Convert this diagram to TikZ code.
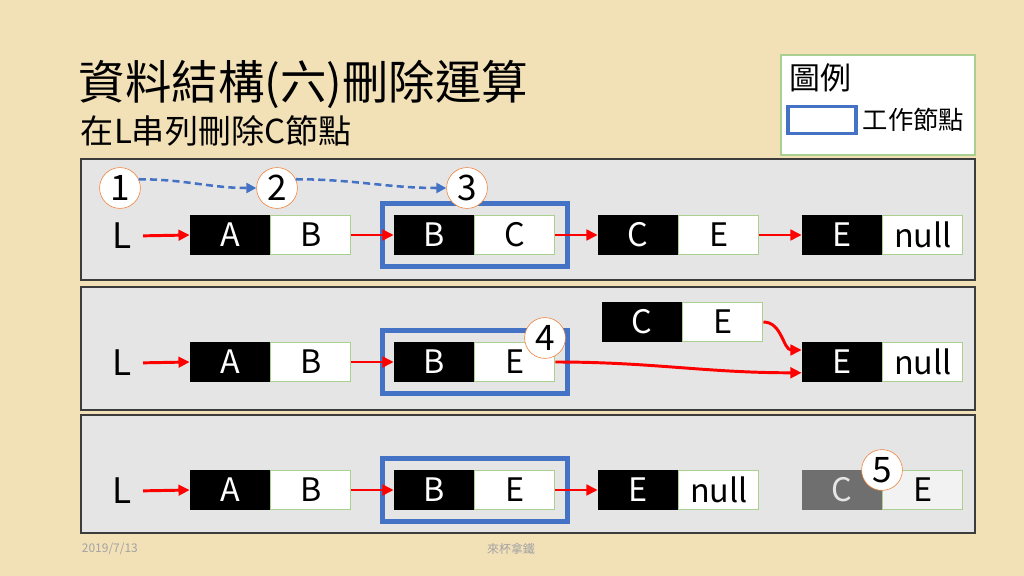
\documentclass[tikz,border=0pt]{standalone}
\usepackage{fontspec}
\setmainfont{Noto Sans CJK TC}
\usepackage{tikz}
\usetikzlibrary{arrows.meta,positioning,fit}
\usepackage{xcolor}
\definecolor{paper}{HTML}{F2E0B7}
\definecolor{panelFill}{HTML}{E6E5E5}
\definecolor{panelEdge}{HTML}{3C3C3C}
\definecolor{workBlue}{HTML}{4472C4}
\definecolor{stepEdge}{HTML}{ED7D31}
\definecolor{cellEdge}{HTML}{A9D08E}
\definecolor{linkRed}{HTML}{FF0000}
\definecolor{gone}{HTML}{6F6F6F}
\definecolor{footGray}{HTML}{A3A3A3}

\newcommand{\titlefont}{\fontsize{33}{37}\selectfont}
\newcommand{\subfont}{\fontsize{23.5}{27}\selectfont}
\newcommand{\cellfont}{\fontsize{23}{27}\selectfont}
\newcommand{\stepfont}{\fontsize{25}{28}\selectfont}

\tikzset{
    % list cells
    datacell/.style={rectangle,draw=black,fill=black,text=white,minimum width=2cm,minimum height=0.975cm,inner sep=0pt,font=\cellfont},
    linkcell/.style={rectangle,draw=cellEdge,thick,fill=white,text=black,minimum width=2cm,minimum height=0.975cm,inner sep=0pt,font=\cellfont},
    listname/.style={font=\fontsize{25}{28}\selectfont,inner sep=2pt},
    workbox/.style={rectangle,draw=workBlue,line width=3.6pt,inner sep=0.29cm},
    stepnum/.style={circle,draw=stepEdge,fill=white,minimum size=1.02cm,inner sep=0pt,font=\stepfont},
    panel/.style={draw=panelEdge,fill=panelFill,line width=0.9pt},
    % connectors
    link/.style={-{Triangle[length=8pt,width=7.5pt]},line width=2.1pt,linkRed},
    walk/.style={-{Triangle[length=7pt,width=7pt]},line width=1.8pt,workBlue,dash pattern=on 5pt off 3pt},
    footer/.style={font=\fontsize{8.5}{10}\selectfont,text=footGray}
}

\begin{document}
\begin{tikzpicture}[x=0.025cm,y=-0.025cm]

% background and frames
\fill[paper] (0,0) rectangle (1024,576);
\draw[panel] (81,159) rectangle (975,280);
\draw[panel] (81,287) rectangle (975,410);
\draw[panel] (81,415) rectangle (975,533);

% titles
\node[anchor=west,font=\titlefont] at (74,84) (title) {資料結構(六)刪除運算};
\node[anchor=west,font=\subfont] at (76,131) (subtitle) {在L串列刪除C節點};

% legend
\draw[draw=cellEdge,thick,fill=white] (781,55) rectangle (975,155);
\node[anchor=west,font=\fontsize{22}{26}\selectfont] at (785,78) (lgname) {圖例};
\node[rectangle,draw=workBlue,line width=2.2pt,fill=white,minimum width=1.7cm,minimum height=0.66cm] at (822,120) (lgbox) {};
\node[anchor=west,font=\fontsize{18}{22}\selectfont] at (858,120) (lgtext) {工作節點};

% row 1: before deleting
\node[listname] at (122,236) (l1) {L};
\node[datacell] at (230,235) (a1) {A};
\node[linkcell,right=0pt of a1] (b1) {B};
\node[datacell] at (434,235) (bb1) {B};
\node[linkcell,right=0pt of bb1] (c1) {C};
\node[datacell] at (638,235) (cc1) {C};
\node[linkcell,right=0pt of cc1] (e1) {E};
\node[datacell] at (842,235) (ee1) {E};
\node[linkcell,right=0pt of ee1] (n1) {null};
\node[workbox,fit=(bb1)(c1)] (w1) {};

\draw[link,shorten <=6pt] (l1.east) -- (a1.west);
\draw[link] (b1.east) -- (bb1.west);
\draw[link] (c1.east) -- (cc1.west);
\draw[link] (e1.east) -- (ee1.west);

\node[stepnum] at (120,188) (s1) {1};
\node[stepnum] at (277,188) (s2) {2};
\node[stepnum] at (467,188) (s3) {3};
\draw[walk] (s1.25) to[out=0,in=180] (s2.west);
\draw[walk] (s2.25) to[out=0,in=180] (s3.west);

% row 2: relink
\node[listname] at (122,363) (l2) {L};
\node[datacell] at (230,362) (a2) {A};
\node[linkcell,right=0pt of a2] (b2) {B};
\node[datacell] at (434,362) (bb2) {B};
\node[linkcell,right=0pt of bb2] (e2) {E};
\node[datacell] at (642,322) (cc2) {C};
\node[linkcell,right=0pt of cc2] (ce2) {E};
\node[datacell] at (842,362) (ee2) {E};
\node[linkcell,right=0pt of ee2] (n2) {null};
\node[workbox,fit=(bb2)(e2)] (w2) {};

\draw[link,shorten <=6pt] (l2.east) -- (a2.west);
\draw[link] (b2.east) -- (bb2.west);
\draw[link] (e2.east) to[out=0,in=180] ([yshift=-0.27cm]ee2.west);
\draw[link] (ce2.east) to[out=0,in=180] ([yshift=0.3cm]ee2.west);

\node[stepnum] at (545,338) (s4) {4};

% row 3: after deleting
\node[listname] at (122,491) (l3) {L};
\node[datacell] at (230,490) (a3) {A};
\node[linkcell,right=0pt of a3] (b3) {B};
\node[datacell] at (434,490) (bb3) {B};
\node[linkcell,right=0pt of bb3] (e3) {E};
\node[datacell] at (638,490) (ee3) {E};
\node[linkcell,right=0pt of ee3] (n3) {null};
\node[datacell,draw=gone,fill=gone,text=panelFill] at (842,490) (gc3) {C};
\node[linkcell,fill=black!5,right=0pt of gc3] (ge3) {E};
\node[workbox,fit=(bb3)(e3)] (w3) {};

\draw[link,shorten <=6pt] (l3.east) -- (a3.west);
\draw[link] (b3.east) -- (bb3.west);
\draw[link] (e3.east) -- (ee3.west);

\node[stepnum] at (882,470) (s5) {5};

% footer
\node[footer,anchor=west] at (77,549) (date) {2019/7/13};
\node[footer] at (511,549) (author) {來杯拿鐵};

\end{tikzpicture}
\end{document}
